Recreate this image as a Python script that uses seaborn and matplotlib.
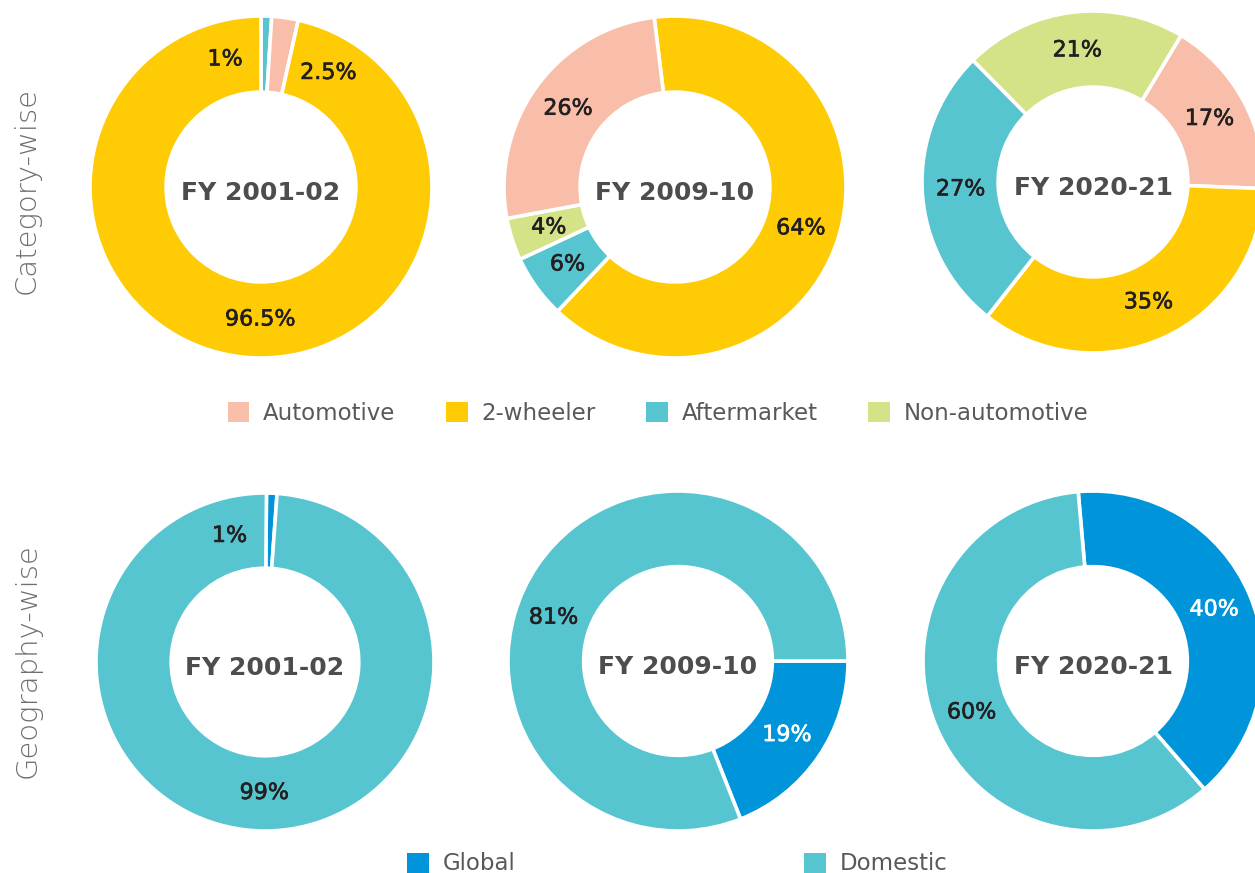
import matplotlib
matplotlib.use("Agg")
import matplotlib.pyplot as plt
import matplotlib.patheffects as pe
from matplotlib.patches import Patch
import numpy as np
import seaborn as sns

# ---- data ----
years = ["FY 2001-02", "FY 2009-10", "FY 2020-21"]

category_names = ["Automotive", "2-wheeler", "Aftermarket", "Non-automotive"]
geography_names = ["Global", "Domestic"]

cat_2001_labels = ["Aftermarket", "Automotive", "2-wheeler"]
cat_2001_values = [1, 2.5, 96.5]
cat_2009_labels = ["2-wheeler", "Aftermarket", "Non-automotive", "Automotive"]
cat_2009_values = [64, 6, 4, 26]
cat_2020_labels = ["Automotive", "2-wheeler", "Aftermarket", "Non-automotive"]
cat_2020_values = [17, 35, 27, 21]

geo_2001_labels = ["Global", "Domestic"]
geo_2001_values = [1, 99]
geo_2009_labels = ["Global", "Domestic"]
geo_2009_values = [19, 81]
geo_2020_labels = ["Global", "Domestic"]
geo_2020_values = [40, 60]

# ---- style ----
sns.set_theme(style="white")
plt.rcParams["font.family"] = ["DejaVu Sans"]

palette = dict(zip(
    ["Automotive", "2-wheeler", "Aftermarket", "Non-automotive", "Global", "Domestic"],
    sns.color_palette(["#F9BEA9", "#FFCB05", "#56C5D0", "#D4E388", "#0095DA", "#56C5D0"]),
))
dark = "#231F20"
grey = "#58595B"

W, H = 1255, 873
fig = plt.figure(figsize=(W / 100, H / 100), dpi=100)

LIM = 1.03
HOLE = 0.555


def donut(cx, cy, r, labels, values, start, year, nudges=None, white=()):
    half = r * LIM
    ax = fig.add_axes([(cx - half) / W, (H - cy - half) / H, 2 * half / W, 2 * half / H])
    colors = [palette[l] for l in labels]
    wedges, _ = ax.pie(values, colors=colors, startangle=90 - start, counterclock=False,
                       wedgeprops=dict(width=1 - HOLE, edgecolor="white", linewidth=2.6))
    ax.set_xlim(-LIM, LIM)
    ax.set_ylim(-LIM, LIM)
    ax.set_aspect("equal")
    ax.axis("off")
    nudges = nudges or {}
    total = sum(values)
    acc = start
    for lab, v in zip(labels, values):
        span = v / total * 360
        ang = acc + span / 2 + nudges.get(lab, 0)
        acc += span
        rad = np.deg2rad(90 - ang)
        col = "white" if lab in white else dark
        # slight stroke to get a medium weight
        ax.text(0.775 * np.cos(rad), 0.775 * np.sin(rad), f"{v:g}%", ha="center", va="center",
                fontsize=16, color=col,
                path_effects=[pe.withStroke(linewidth=0.45, foreground=col)])
    ax.text(0, -0.035, year, ha="center", va="center", fontsize=18, fontweight="bold", color="#4D4D4F")
    return ax


donut(261, 187, 171, cat_2001_labels, cat_2001_values, 0, years[0],
      nudges={"Aftermarket": -17.5, "Automotive": 22.5, "2-wheeler": -6})
donut(675, 187, 171, cat_2009_labels, cat_2009_values, -7, years[1])
donut(1093, 182, 171, cat_2020_labels, cat_2020_values, 31, years[2])

donut(265, 662, 169, geo_2001_labels, geo_2001_values, 0.5, years[0],
      nudges={"Global": -18, "Domestic": -2})
donut(678, 661, 170, geo_2009_labels, geo_2009_values, 90, years[1],
      nudges={"Domestic": -15}, white=("Global",))
donut(1093, 661, 170, geo_2020_labels, geo_2020_values, -5, years[2], white=("Global",))

# side titles
fig.text(27 / W, 1 - 190 / H, "Category-wise", rotation=90, ha="center", va="center",
         fontsize=21, color="#6D6E71", fontweight="light")
fig.text(28 / W, 1 - 661 / H, "Geography-wise", rotation=90, ha="center", va="center",
         fontsize=21, color="#6D6E71", fontweight="light")

# legends
cat_handles = [Patch(facecolor=palette[n], edgecolor="none") for n in category_names]
fig.legend(cat_handles, category_names, loc="center", bbox_to_anchor=(658 / W, 1 - 413 / H),
           ncol=4, frameon=False, fontsize=16.5, handlelength=0.95, handleheight=0.95,
           handletextpad=0.6, columnspacing=2.2, labelcolor=grey)

geo_handles = [Patch(facecolor=palette[n], edgecolor="none") for n in geography_names]
fig.legend(geo_handles, geography_names, loc="center", bbox_to_anchor=(677 / W, 1 - 864 / H),
           ncol=2, frameon=False, fontsize=16.5, handlelength=0.95, handleheight=0.95,
           handletextpad=0.6, columnspacing=12.6, labelcolor=grey)

fig.savefig("out.png", dpi=100, facecolor="white")
